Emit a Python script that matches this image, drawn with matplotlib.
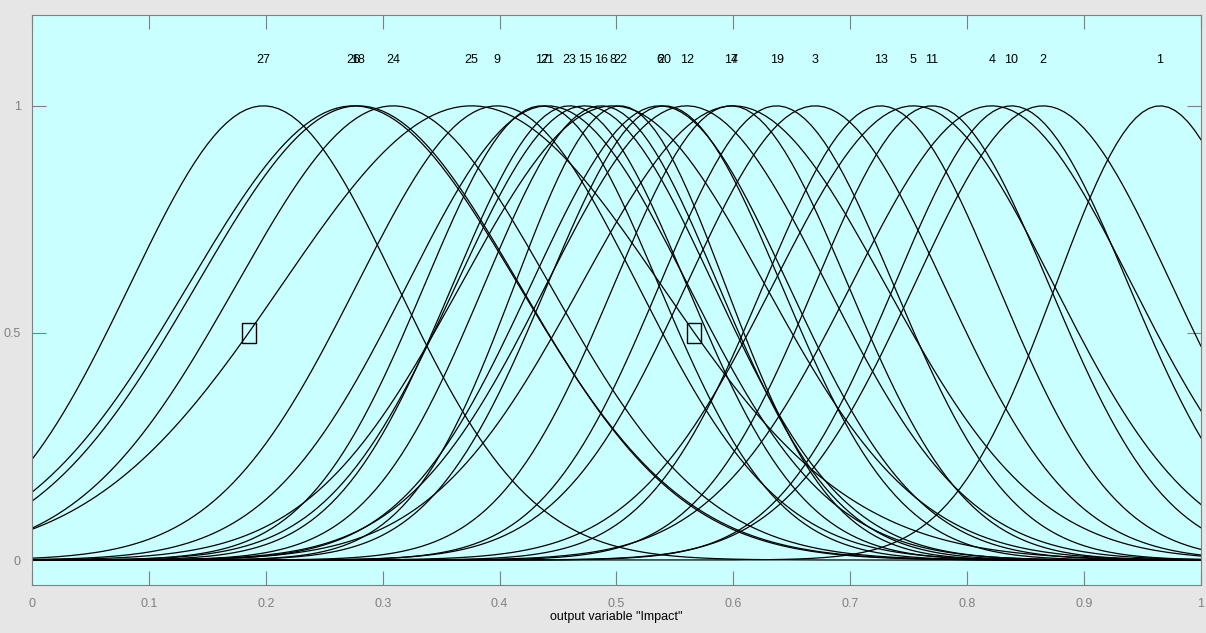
import numpy as np
import matplotlib
matplotlib.use("Agg")
import matplotlib.pyplot as plt
from matplotlib.patches import Rectangle

# Gaussian membership functions of the output variable "Impact"
mf_labels = ["27", "26", "18", "24", "25", "9", "17", "21", "23", "15", "16", "8", "22",
             "6", "20", "12", "14", "7", "19", "3", "13", "5", "11", "4", "10", "2", "1"]
mf_centers = [0.198, 0.275, 0.279, 0.309, 0.376, 0.398, 0.436, 0.441, 0.460, 0.473, 0.487,
              0.497, 0.503, 0.537, 0.541, 0.560, 0.598, 0.600, 0.637, 0.670, 0.726, 0.754,
              0.770, 0.821, 0.838, 0.865, 0.965]
mf_sigmas = [0.114, 0.141, 0.138, 0.134, 0.162, 0.12, 0.10, 0.12, 0.10, 0.11, 0.10,
             0.13, 0.09, 0.11, 0.10, 0.12, 0.10, 0.13, 0.10, 0.11, 0.10, 0.12,
             0.10, 0.12, 0.10, 0.11, 0.089]
selected_mf = "25"

x_ticks = [0.0, 0.1, 0.2, 0.3, 0.4, 0.5, 0.6, 0.7, 0.8, 0.9, 1.0]
x_tick_labels = ["0", "0.1", "0.2", "0.3", "0.4", "0.5", "0.6", "0.7", "0.8", "0.9", "1"]
y_ticks = [0.0, 0.5, 1.0]
y_tick_labels = ["0", "0.5", "1"]
x_label = 'output variable "Impact"'

plt.rcParams["font.family"] = ["Liberation Sans", "DejaVu Sans"]

fig = plt.figure(figsize=(12.06, 6.33), dpi=100, facecolor="#e6e6e6")
ax = fig.add_axes([0.0265, 0.0758, 0.9693, 0.9005])
ax.set_facecolor("#c9ffff")

x = np.linspace(0.0, 1.0, 181)
for lab, c, s in zip(mf_labels, mf_centers, mf_sigmas):
    y = np.exp(-((x - c) ** 2) / (2.0 * s ** 2))
    ax.plot(x, y, color="black", lw=0.9, solid_joinstyle="miter")
    ax.text(c, 1.1, lab, ha="center", va="center", fontsize=9, color="black")

# handles of the selected membership function at half height
i_sel = mf_labels.index(selected_mf)
c, s = mf_centers[i_sel], mf_sigmas[i_sel]
half = s * np.sqrt(2.0 * np.log(2.0))
w, h = 0.012, 0.044
for xh in (c - half, c + half):
    ax.add_patch(Rectangle((xh - w / 2, 0.5 - h / 2), w, h, fill=False,
                           edgecolor="black", lw=1.0, zorder=5))

ax.set_xlim(0, 1)
ax.set_ylim(-0.055, 1.2)
ax.set_xticks(x_ticks)
ax.set_xticklabels(x_tick_labels)
ax.set_yticks(y_ticks)
ax.set_yticklabels(y_tick_labels)
ax.tick_params(direction="in", length=10, width=0.8, colors="#808080",
               labelcolor="#808080", labelsize=9, top=True, right=True)
ax.tick_params(axis="x", pad=9)
ax.tick_params(axis="y", pad=8)
for sp in ax.spines.values():
    sp.set_color("#808080")
    sp.set_linewidth(0.8)
ax.set_xlabel(x_label, fontsize=9, color="black", labelpad=1)

fig.savefig("out.png", dpi=100, facecolor=fig.get_facecolor())
